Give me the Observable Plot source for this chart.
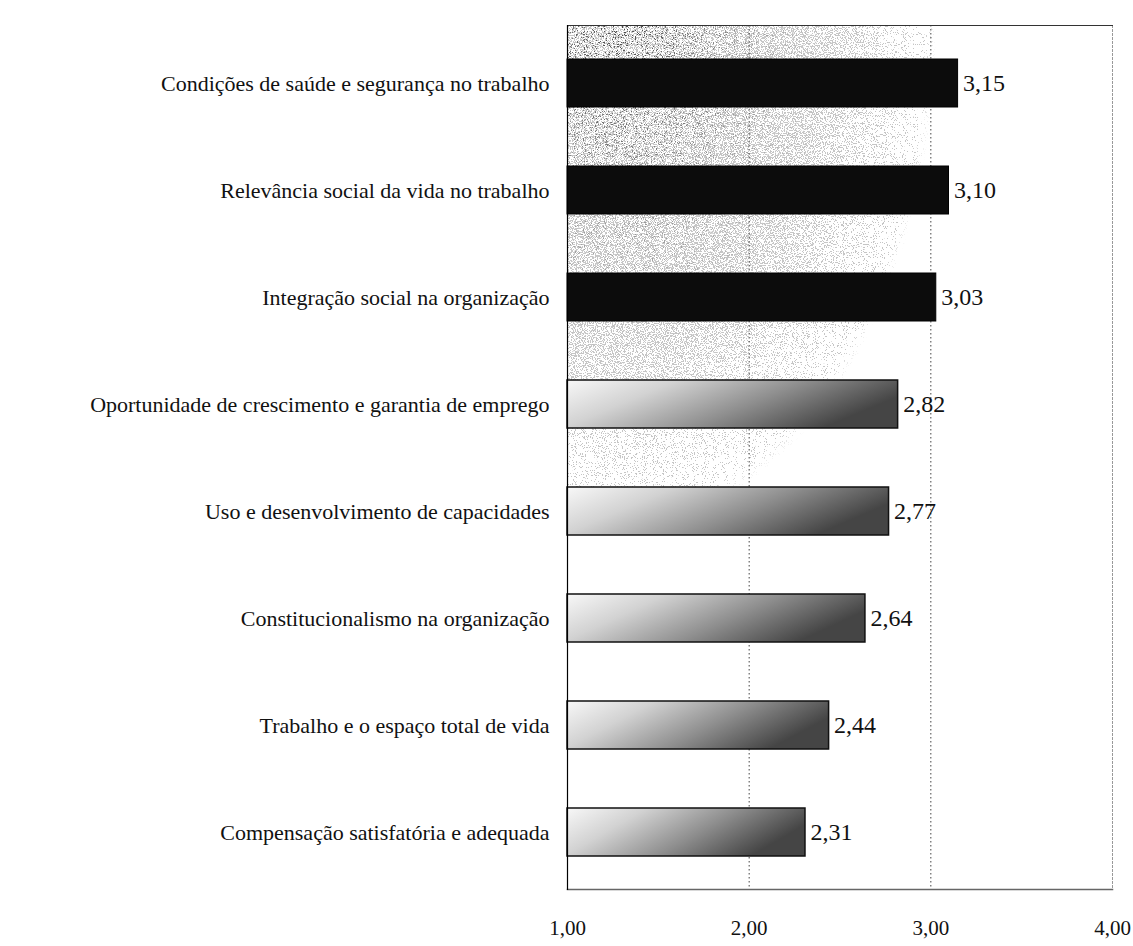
<!DOCTYPE html>
<html>
<head>
<meta charset="utf-8">
<script src="https://cdn.jsdelivr.net/npm/d3@7"></script>
<script src="https://cdn.jsdelivr.net/npm/@observablehq/plot@0.6"></script>
<style>
  html, body { margin: 0; padding: 0; background: #fff; }
  #chart svg { display: block; }
</style>
</head>
<body>
<div id="chart"></div>
<script>
// Dimensões da qualidade de vida no trabalho (médias, escala de 1 a 4)
const categories = [
  "Condições de saúde e segurança no trabalho",
  "Relevância social da vida no trabalho",
  "Integração social na organização",
  "Oportunidade de crescimento e garantia de emprego",
  "Uso e desenvolvimento de capacidades",
  "Constitucionalismo na organização",
  "Trabalho e o espaço total de vida",
  "Compensação satisfatória e adequada"
];
const values = [3.15, 3.10, 3.03, 2.82, 2.77, 2.64, 2.44, 2.31];
// dimensões com média acima de 3,00 ficam em destaque
const highlighted = [true, true, true, false, false, false, false, false];
const xTicks = [1, 2, 3, 4];

const rows = categories.map((label, i) => ({label, value: values[i], highlighted: highlighted[i]}));
const fmt = v => v.toFixed(2).replace(".", ",");
const serif = "'Liberation Serif', 'Times New Roman', serif";

// filtro de pontilhado: a opacidade do gradiente controla a densidade dos pontos
function stippleFilter(defs, id, seed, threshold, ink) {
  const f = defs.append("filter").attr("id", id)
    .attr("x", 0).attr("y", 0).attr("width", 1).attr("height", 1);
  f.append("feTurbulence").attr("type", "fractalNoise").attr("baseFrequency", 0.9)
    .attr("numOctaves", 2).attr("seed", seed).attr("result", "noise");
  f.append("feColorMatrix").attr("in", "noise").attr("type", "matrix")
    .attr("values", "0 0 0 0 0  0 0 0 0 0  0 0 0 0 0  3 0 0 0 -1").attr("result", "nA");
  f.append("feComposite").attr("in", "SourceGraphic").attr("in2", "nA")
    .attr("operator", "arithmetic").attr("k1", 0).attr("k2", 20).attr("k3", 20)
    .attr("k4", -20 * threshold).attr("result", "mask");
  f.append("feFlood").attr("flood-color", ink).attr("result", "ink");
  f.append("feComposite").attr("in", "ink").attr("in2", "mask").attr("operator", "in");
}

// gradientes e texturas usados pelas barras e pelo fundo da área de plotagem
const defs = () => {
  const g = d3.create("svg:g");
  const d = g.append("defs");
  const bar = d.append("linearGradient").attr("id", "barGrad")
    .attr("x1", 0).attr("y1", 0).attr("x2", 1).attr("y2", 0.35);
  [[0, "#f8f8f8"], [0.3, "#d2d2d2"], [0.65, "#8e8e8e"], [1, "#454545"]]
    .forEach(([o, c]) => bar.append("stop").attr("offset", o).attr("stop-color", c));
  const bg = d.append("radialGradient").attr("id", "bgGrad")
    .attr("cx", 0.1).attr("cy", 0).attr("r", 0.85);
  [[0, 1], [0.45, 0.95], [0.62, 0.62], [0.78, 0.3], [1, 0]]
    .forEach(([o, a]) => bg.append("stop").attr("offset", o).attr("stop-color", "#000").attr("stop-opacity", a));
  stippleFilter(d, "stippleLight", 7, 1.5, "#c6c6c6");
  stippleFilter(d, "stippleDark", 23, 1.95, "#4a4a4a");
  return g.node();
};

// fundo pontilhado da área de plotagem
const background = (index, scales, values, dims) => {
  const x0 = scales.x(1), x1 = scales.x(4);
  const y0 = dims.marginTop, y1 = dims.height - dims.marginBottom;
  const g = d3.create("svg:g");
  for (const id of ["stippleLight", "stippleDark"]) {
    g.append("rect").attr("x", x0).attr("y", y0)
      .attr("width", x1 - x0).attr("height", y1 - y0)
      .attr("fill", "url(#bgGrad)").attr("filter", `url(#${id})`);
  }
  return g.node();
};

const chart = Plot.plot({
  width: 1133,
  height: 946,
  marginLeft: 567,
  marginRight: 21,
  marginTop: 25,
  marginBottom: 57,
  style: {fontFamily: serif, color: "#111", background: "#fff"},
  x: {domain: [1, 4]},
  y: {domain: categories, paddingInner: 0.553, paddingOuter: 0.298},
  marks: [
    defs,
    background,
    Plot.ruleX([2, 3], {stroke: "#444", strokeDasharray: "1.5,2.5"}),
    Plot.frame({anchor: "right", stroke: "#999", strokeDasharray: "2,2"}),
    Plot.frame({anchor: "top", stroke: "#333", strokeDasharray: "3,1"}),
    Plot.barX(rows.filter(d => !d.highlighted), {
      x1: 1, x2: "value", y: "label",
      fill: "url(#barGrad)", stroke: "#111", strokeWidth: 1.5
    }),
    Plot.barX(rows.filter(d => d.highlighted), {
      x1: 1, x2: "value", y: "label",
      fill: "#0c0c0c", stroke: "#000", strokeWidth: 1
    }),
    Plot.text(rows, {
      x: "value", y: "label", text: d => fmt(d.value),
      dx: 5, textAnchor: "start", fontSize: 24, fill: "#111"
    }),
    Plot.frame({anchor: "bottom", stroke: "#666", strokeWidth: 1.5}),
    Plot.frame({anchor: "left", stroke: "#000", strokeWidth: 1.2}),
    Plot.axisY({tickSize: 0, tickPadding: 18, fontSize: 22, label: null}),
    Plot.axisX({
      ticks: xTicks, tickFormat: fmt, tickSize: 0, tickPadding: 31,
      fontSize: 21, label: null
    })
  ]
});

document.getElementById("chart").append(chart);
</script>
</body>
</html>
